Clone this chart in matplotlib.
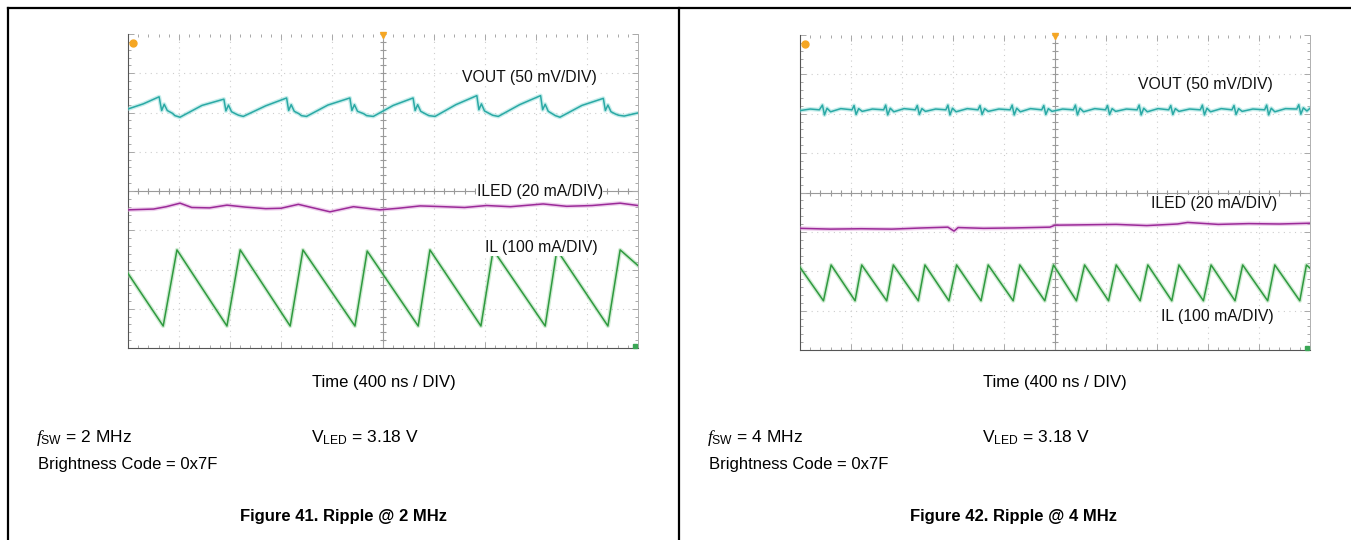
import numpy as np
import matplotlib
matplotlib.use('Agg')
import matplotlib.pyplot as plt
from matplotlib.ticker import MultipleLocator

plt.rcParams['font.family'] = ['Liberation Sans', 'DejaVu Sans']
plt.rcParams['mathtext.fontset'] = 'custom'
plt.rcParams['mathtext.rm'] = 'Liberation Sans'
plt.rcParams['mathtext.it'] = 'Liberation Serif:italic'

# ---- data, in scope divisions (x: 0..10, y: 0..8) ----
# Figure 41, 2 MHz
vout2_t = [0.00, 0.30, 0.61, 0.66, 0.71, 0.77, 0.87, 0.92, 1.02, 1.45,
           1.88, 1.92, 1.97, 2.03, 2.12, 2.17, 2.26, 2.70,
           3.11, 3.15, 3.20, 3.26, 3.35, 3.40, 3.50, 3.92,
           4.35, 4.39, 4.44, 4.50, 4.62, 4.68, 4.81, 5.20,
           5.59, 5.63, 5.68, 5.74, 5.84, 5.90, 6.02, 6.43,
           6.84, 6.88, 6.93, 6.99, 7.09, 7.15, 7.26, 7.68,
           8.09, 8.13, 8.18, 8.24, 8.33, 8.38, 8.47, 8.90,
           9.32, 9.36, 9.41, 9.47, 9.56, 9.62, 9.73, 10.00]
vout2_v = [6.09, 6.22, 6.40, 6.05, 6.21, 6.05, 5.98, 5.92, 5.88, 6.18,
           6.34, 6.04, 6.19, 6.02, 5.96, 5.93, 5.90, 6.17,
           6.37, 6.05, 6.20, 6.03, 5.97, 5.92, 5.90, 6.19,
           6.37, 6.05, 6.20, 6.03, 5.97, 5.92, 5.90, 6.18,
           6.37, 6.05, 6.20, 6.03, 5.96, 5.92, 5.90, 6.20,
           6.43, 6.07, 6.22, 6.04, 5.97, 5.93, 5.90, 6.20,
           6.43, 6.07, 6.21, 6.03, 5.96, 5.92, 5.88, 6.18,
           6.36, 6.05, 6.19, 6.02, 5.96, 5.93, 5.91, 5.99]
iled2_t = [0.00, 0.50, 0.75, 1.02, 1.25, 1.60, 1.94, 2.30, 2.70, 3.00,
           3.34, 3.60, 3.96, 4.42, 4.94, 5.30, 5.73, 6.20, 6.60, 7.03,
           7.50, 8.14, 8.60, 9.10, 9.65, 10.00]
iled2_v = [3.52, 3.54, 3.60, 3.69, 3.58, 3.57, 3.64, 3.59, 3.55, 3.56,
           3.66, 3.58, 3.47, 3.60, 3.52, 3.56, 3.62, 3.60, 3.58, 3.63,
           3.60, 3.67, 3.61, 3.63, 3.69, 3.63]
il2_t = [0.00, 0.69, 0.96, 1.94, 2.20, 3.18, 3.43, 4.45, 4.69, 5.69,
         5.92, 6.92, 7.16, 8.18, 8.41, 9.41, 9.65, 10.00]
il2_v = [1.90, 0.56, 2.50, 0.56, 2.50, 0.56, 2.50, 0.56, 2.47, 0.56,
         2.50, 0.56, 2.50, 0.56, 2.50, 0.56, 2.50, 2.10]

# Figure 42, 4 MHz
vout4_t = [0.00, 0.20, 0.38, 0.44, 0.48, 0.53, 0.60, 0.80,
           1.02, 1.06, 1.10, 1.15, 1.22, 1.42, 1.64, 1.68, 1.72, 1.77, 1.84, 2.04,
           2.26, 2.30, 2.34, 2.39, 2.46, 2.66, 2.86, 2.90, 2.94, 2.99, 3.06, 3.28,
           3.49, 3.53, 3.57, 3.62, 3.69, 3.90, 4.12, 4.16, 4.20, 4.25, 4.32, 4.52,
           4.74, 4.78, 4.82, 4.87, 4.94, 5.15, 5.36, 5.40, 5.44, 5.49, 5.56, 5.78,
           5.99, 6.03, 6.07, 6.12, 6.19, 6.40, 6.61, 6.65, 6.69, 6.74, 6.81, 7.02,
           7.23, 7.27, 7.31, 7.36, 7.43, 7.64, 7.85, 7.89, 7.93, 7.98, 8.05, 8.26,
           8.47, 8.51, 8.55, 8.60, 8.67, 8.88, 9.11, 9.15, 9.19, 9.24, 9.31, 9.52,
           9.74, 9.78, 9.82, 9.87, 9.94, 10.00]
vout4_v = [6.08, 6.12, 6.10, 6.22, 5.97, 6.14, 6.05, 6.13,
           6.10, 6.21, 5.98, 6.13, 6.06, 6.12, 6.10, 6.22, 5.97, 6.14, 6.05, 6.13,
           6.10, 6.21, 5.98, 6.13, 6.06, 6.12, 6.10, 6.22, 5.97, 6.14, 6.05, 6.13,
           6.10, 6.21, 5.98, 6.13, 6.06, 6.12, 6.10, 6.22, 5.97, 6.14, 6.05, 6.13,
           6.10, 6.21, 5.98, 6.13, 6.06, 6.12, 6.10, 6.22, 5.97, 6.14, 6.05, 6.13,
           6.10, 6.21, 5.98, 6.13, 6.06, 6.12, 6.10, 6.22, 5.97, 6.14, 6.05, 6.13,
           6.10, 6.21, 5.98, 6.13, 6.06, 6.12, 6.10, 6.22, 5.97, 6.14, 6.05, 6.13,
           6.10, 6.21, 5.98, 6.13, 6.06, 6.12, 6.10, 6.22, 5.97, 6.14, 6.05, 6.13,
           6.12, 6.23, 5.99, 6.15, 6.07, 6.14]
iled4_t = [0.00, 0.60, 1.20, 1.80, 2.40, 2.90, 3.02, 3.10, 3.60, 4.20,
           4.90, 5.00, 5.60, 6.20, 6.80, 7.40, 7.60, 8.20, 8.80, 9.40, 10.00]
iled4_v = [3.09, 3.07, 3.08, 3.07, 3.10, 3.12, 3.02, 3.11, 3.09, 3.10,
           3.12, 3.17, 3.18, 3.19, 3.16, 3.20, 3.24, 3.19, 3.21, 3.20, 3.22]
il4_t = [0.00, 0.46, 0.61, 1.08, 1.21, 1.70, 1.83, 2.32, 2.45, 2.92, 3.07,
         3.55, 3.69, 4.18, 4.31, 4.80, 4.97, 5.42, 5.58, 6.05, 6.20, 6.67,
         6.82, 7.29, 7.43, 7.91, 8.06, 8.53, 8.68, 9.17, 9.31, 9.80, 9.93, 10.00]
il4_v = [2.10, 1.25, 2.16, 1.25, 2.16, 1.25, 2.16, 1.25, 2.16, 1.25, 2.16,
         1.25, 2.16, 1.25, 2.16, 1.25, 2.16, 1.25, 2.16, 1.25, 2.16, 1.25,
         2.16, 1.25, 2.16, 1.25, 2.16, 1.25, 2.16, 1.25, 2.16, 1.25, 2.16, 2.08]

trace_labels = ['VOUT (50 mV/DIV)', 'ILED (20 mA/DIV)', 'IL (100 mA/DIV)']
time_label = 'Time (400 ns / DIV)'
fsw_labels = ['2 MHz', '4 MHz']
vled_label = '3.18 V'
code_label = 'Brightness Code = 0x7F'
captions = ['Figure 41. Ripple @ 2 MHz', 'Figure 42. Ripple @ 4 MHz']

W, H = 1351, 540
fig = plt.figure(figsize=(W / 100, H / 100), dpi=100)

# page layer in pixel coordinates
base = fig.add_axes([0, 0, 1, 1])
base.set_xlim(0, W)
base.set_ylim(H, 0)
base.axis('off')
base.plot([8, W], [8, 8], color='black', lw=1.6)
base.plot([8, 8], [8, H], color='black', lw=1.6)
base.plot([679, 679], [8, H], color='black', lw=1.6)


def scope(box, traces, label_pos):
    x0, y0, x1, y1 = box
    ax = fig.add_axes([x0 / W, 1 - y1 / H, (x1 - x0) / W, (y1 - y0) / H])
    ax.set_xlim(0, 10)
    ax.set_ylim(0, 8)
    grid_c = '#cdcdcd'
    for i in range(1, 10):
        if i != 5:
            ax.axvline(i, color=grid_c, lw=0.8, ls=(0, (1, 4)), zorder=1)
    for j in range(1, 8):
        if j != 4:
            ax.axhline(j, color=grid_c, lw=0.8, ls=(0, (1, 4)), zorder=1)
    ax.axvline(5, color='#9a9a9a', lw=0.8, zorder=1)
    ax.axhline(4, color='#9a9a9a', lw=0.8, zorder=1)
    tx = np.arange(0, 10.01, 0.2)
    ty = np.arange(0, 8.01, 0.2)
    ax.plot(tx, np.full(len(tx), 4), '|', ms=4, color='#9a9a9a', mew=0.8, zorder=1)
    ax.plot(np.full(len(ty), 5), ty, '_', ms=4, color='#9a9a9a', mew=0.8, zorder=1)

    for t, v, core, halo in traces:
        ax.plot(t, v, color=halo, lw=3.0, alpha=0.5, zorder=3, solid_joinstyle='round')
        ax.plot(t, v, color=core, lw=1.1, zorder=4, solid_joinstyle='round')

    for (lx, ly), txt in zip(label_pos, trace_labels):
        ax.text(lx, ly, txt, ha='right', va='center', fontsize=11.3, color='#111111',
                zorder=5, bbox=dict(facecolor='white', edgecolor='none', pad=0.5))

    # channel marker, trigger marker, bottom marker
    ax.plot([0.1], [7.78], 'o', ms=5, color='#f5a623', zorder=6, clip_on=False)
    ax.plot([5], [7.97], 'v', ms=5, color='#f5a623', zorder=6, clip_on=False)
    ax.plot([9.95], [0.04], 's', ms=3, color='#3aa655', zorder=6, clip_on=False)

    ax.xaxis.set_major_locator(MultipleLocator(1))
    ax.yaxis.set_major_locator(MultipleLocator(1))
    ax.xaxis.set_minor_locator(MultipleLocator(0.2))
    ax.yaxis.set_minor_locator(MultipleLocator(0.2))
    ax.tick_params(which='both', direction='in', top=True, right=True,
                   labelbottom=False, labelleft=False, color='#a8a8a8', width=0.7)
    ax.tick_params(which='major', length=4)
    ax.tick_params(which='minor', length=2)
    ax.spines['left'].set_color('#555555')
    ax.spines['bottom'].set_color('#555555')
    ax.spines['top'].set_visible(False)
    ax.spines['right'].set_color('#b0b0b0')
    ax.spines['right'].set_linewidth(0.7)
    return ax


vc, vh = '#2aa9a5', '#8fdcd8'
mc, mh = '#9b2a98', '#dca0da'
gc, gh = '#2f9a3f', '#a2d8a8'

scope((128, 34, 638, 348),
      [(vout2_t, vout2_v, vc, vh), (iled2_t, iled2_v, mc, mh), (il2_t, il2_v, gc, gh)],
      [(9.2, 6.88), (9.31, 3.99), (9.2, 2.55)])
scope((800, 35, 1310, 350),
      [(vout4_t, vout4_v, vc, vh), (iled4_t, iled4_v, mc, mh), (il4_t, il4_v, gc, gh)],
      [(9.27, 6.75), (9.35, 3.72), (9.29, 0.85)])

# text under each scope
for i, off in enumerate([0, 671]):
    base.text(384 + off, 382, time_label, ha='center', va='center', fontsize=12)
    base.text(36 + off, 438, r'$\mathit{f}_{\mathrm{SW}}$' + ' = ' + fsw_labels[i],
              ha='left', va='center', fontsize=12.5)
    base.text(311 + off, 438, r'V$_{\mathrm{LED}}$' + ' = ' + vled_label,
              ha='left', va='center', fontsize=12.5)
    base.text(38 + off, 465, code_label, ha='left', va='center', fontsize=12)
    base.text(343 + off, 516, captions[i], ha='center', va='center',
              fontsize=12, fontweight='bold')

fig.savefig('out.png', dpi=100)
